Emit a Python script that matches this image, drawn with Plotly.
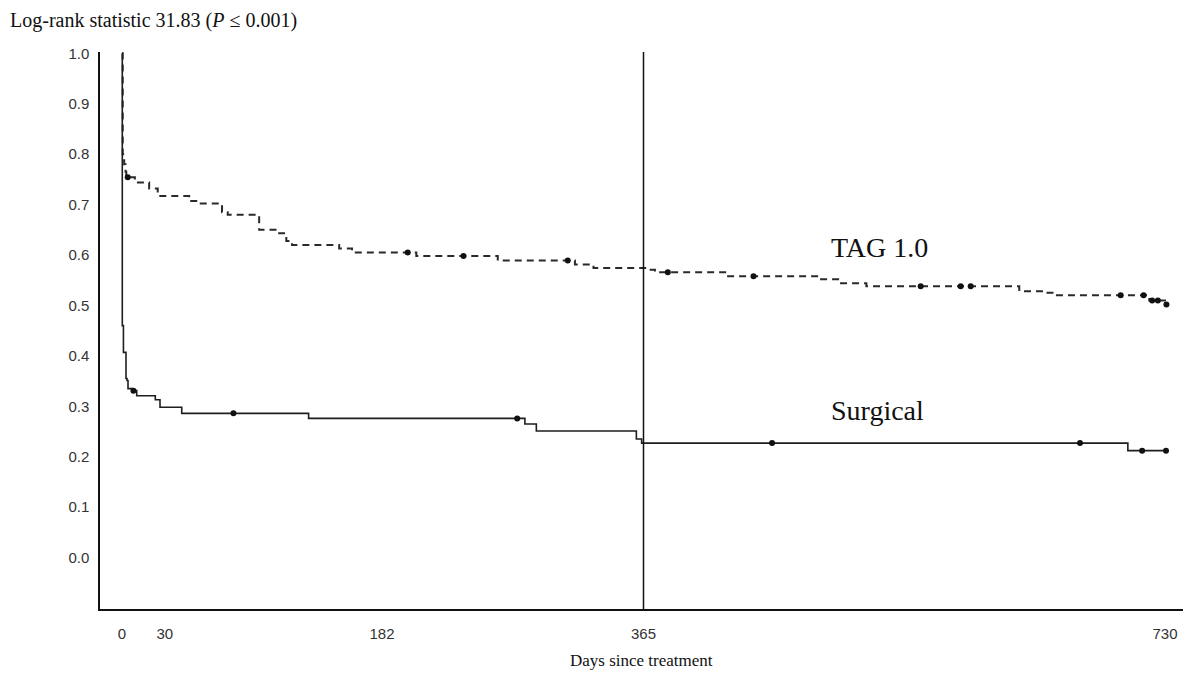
import numpy as np
import plotly.graph_objects as go

# ---- data ----
tag_times = [0, 0.5, 1.5, 2.5, 3, 9, 19, 25, 47, 53, 70, 74, 96, 110, 115, 119,
             152, 161, 206, 263, 317, 330, 368, 373, 423, 488, 502, 521, 628,
             647, 652, 719, 730]
tag_surv = [1.0, 0.80, 0.78, 0.765, 0.754, 0.744, 0.732, 0.717, 0.707, 0.702,
            0.685, 0.680, 0.650, 0.643, 0.628, 0.620, 0.613, 0.605, 0.598,
            0.589, 0.581, 0.574, 0.571, 0.566, 0.558, 0.552, 0.544, 0.538,
            0.528, 0.525, 0.520, 0.510, 0.502]
tag_censor = [4, 200, 239, 312, 382, 442, 559, 587, 594, 699, 715, 721, 725, 731]
tag_end = 731

surg_times = [0, 0.2, 1.0, 2.8, 3.5, 4.2, 7, 10.3, 23.3, 26.6, 41.8, 130.6,
              282, 290, 360, 363.7, 704]
surg_surv = [1.0, 0.46, 0.407, 0.355, 0.351, 0.335, 0.331, 0.321, 0.313, 0.298,
             0.286, 0.276, 0.265, 0.251, 0.235, 0.227, 0.212]
surg_censor = [8, 78, 276.6, 455, 670.5, 714, 730.7]
surg_end = 731

x_ticks = [0, 30, 182, 365, 730]
y_ticks = [0.0, 0.1, 0.2, 0.3, 0.4, 0.5, 0.6, 0.7, 0.8, 0.9, 1.0]
marker_day = 365


def step_value(times, surv, t):
    idx = np.searchsorted(np.array(times), np.array(t), side="right") - 1
    return np.array(surv)[idx]


LINE_C = "#1e1e1e"
fig = go.Figure()

# TAG 1.0 (dashed)
fig.add_trace(go.Scatter(
    x=tag_times + [tag_end], y=tag_surv + [tag_surv[-1]],
    mode="lines", line=dict(shape="hv", color="#2a2a2a", width=2, dash="7px,5px"),
    showlegend=False, hoverinfo="skip"))
fig.add_trace(go.Scatter(
    x=tag_censor, y=step_value(tag_times, tag_surv, tag_censor),
    mode="markers", marker=dict(color="#111", size=6), showlegend=False))

# Surgical (solid)
fig.add_trace(go.Scatter(
    x=surg_times + [surg_end], y=surg_surv + [surg_surv[-1]],
    mode="lines", line=dict(shape="hv", color=LINE_C, width=1.6),
    showlegend=False, hoverinfo="skip"))
fig.add_trace(go.Scatter(
    x=surg_censor, y=step_value(surg_times, surg_surv, surg_censor),
    mode="markers", marker=dict(color="#111", size=6), showlegend=False))

# vertical line at one year
fig.add_shape(type="line", x0=marker_day, x1=marker_day, xref="x",
              y0=0, y1=1, yref="paper", line=dict(color="#111", width=1.5))

tick_font = dict(family="Liberation Sans, Arial, sans-serif", size=15, color="#333")
serif = "Liberation Serif, Times New Roman, serif"

fig.update_xaxes(range=[-15.4, 742.6], tickvals=x_ticks,
                 ticktext=[str(v) for v in x_ticks],
                 showgrid=False, zeroline=False, showline=True,
                 linecolor="#111", linewidth=1.5,
                 ticks="outside", ticklen=10, tickcolor="rgba(0,0,0,0)",
                 tickfont=tick_font)
fig.update_yaxes(range=[-0.102, 1.0026], tickvals=y_ticks,
                 ticktext=[f"{v:.1f}" for v in y_ticks],
                 showgrid=False, zeroline=False, showline=True,
                 linecolor="#111", linewidth=1.5,
                 ticks="outside", ticklen=6, tickcolor="rgba(0,0,0,0)",
                 tickfont=tick_font)

fig.add_annotation(text="Log-rank statistic 31.83 (<i>P</i> ≤ 0.001)",
                   xref="paper", yref="paper", x=-0.085, y=1.0557,
                   xanchor="left", yanchor="middle", showarrow=False,
                   font=dict(family=serif, size=20, color="#111"))
fig.add_annotation(text="Days since treatment", xref="paper", yref="paper",
                   x=0.5, y=-0.0916, xanchor="center", yanchor="middle",
                   showarrow=False, font=dict(family=serif, size=17, color="#111"))
fig.add_annotation(text="TAG 1.0", x=530.5, y=0.615, xanchor="center",
                   yanchor="middle", showarrow=False,
                   font=dict(family=serif, size=28, color="#111"))
fig.add_annotation(text="Surgical", x=529, y=0.292, xanchor="center",
                   yanchor="middle", showarrow=False,
                   font=dict(family=serif, size=28, color="#111"))

# page body has an 8px default margin, so the figure is sized to fit inside it
fig.update_layout(width=1194, height=669,
                  margin=dict(l=92, r=19, t=44, b=68),
                  paper_bgcolor="white", plot_bgcolor="white")

fig.write_html("out.html")
